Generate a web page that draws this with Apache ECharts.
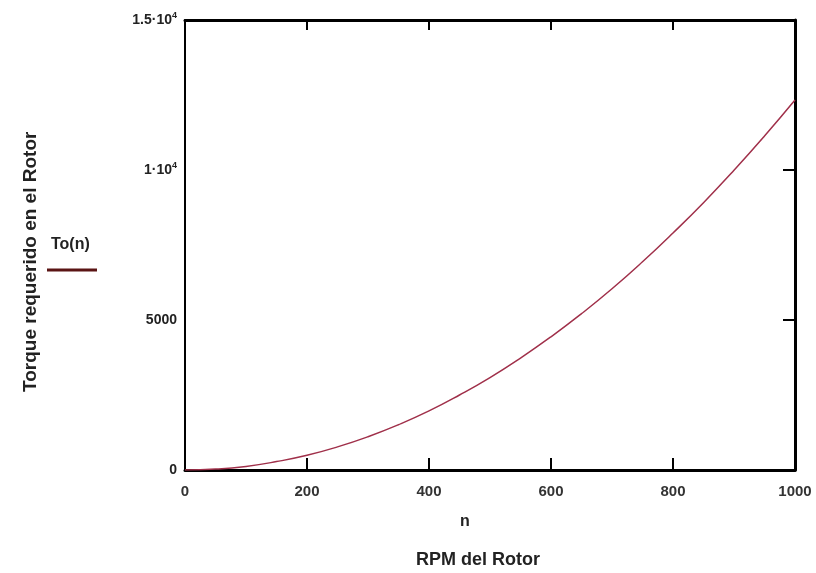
<!DOCTYPE html>
<html>
<head>
<meta charset="utf-8">
<script src="https://cdn.jsdelivr.net/npm/echarts@6/dist/echarts.min.js"></script>
<style>html,body{margin:0;padding:0;background:#fff}#c{width:816px;height:573px}</style>
</head>
<body>
<div id="c"></div>
<script>
// Data
var rpm = [0, 50, 100, 150, 200, 250, 300, 350, 400, 450, 500, 550, 600, 650, 700, 750, 800, 850, 900, 950, 1000];
var torque = [0, 30, 120, 280, 490, 770, 1110, 1510, 1970, 2500, 3080, 3730, 4440, 5210, 6040, 6940, 7900, 8910, 9990, 11130, 12330];
var yTickLabels = {0: '0', 5000: '5000', 10000: '1·10{s|4}', 15000: '1.5·10{s|4}'};
var seriesName = 'To(n)';

var pts = rpm.map(function (n, i) { return [n, torque[i]]; });
var font = '"Liberation Sans Narrow", "Liberation Sans", Arial, sans-serif';
var chart = echarts.init(document.getElementById('c'));
chart.setOption({
  animation: false,
  backgroundColor: '#fff',
  grid: {left: 185, right: 21, top: 20, bottom: 103, show: false},
  xAxis: [{
    type: 'value', min: 0, max: 1000, interval: 200, position: 'bottom',
    axisLine: {show: true, onZero: false, lineStyle: {color: '#000', width: 3}},
    axisTick: {show: true, inside: true, length: 12, lineStyle: {color: '#000', width: 2}},
    axisLabel: {fontFamily: font, fontSize: 15, fontWeight: 'bold', color: '#333', margin: 14,
      formatter: function (v) { return String(v); }},
    splitLine: {show: false}
  }, {
    type: 'value', min: 0, max: 1000, interval: 200, position: 'top',
    axisLine: {show: true, onZero: false, lineStyle: {color: '#000', width: 3}},
    axisTick: {show: true, inside: true, length: 10, lineStyle: {color: '#000', width: 2}},
    axisLabel: {show: false}, splitLine: {show: false}
  }],
  yAxis: [{
    type: 'value', min: 0, max: 15000, interval: 5000, position: 'left',
    axisLine: {show: true, onZero: false, lineStyle: {color: '#000', width: 2}},
    axisTick: {show: false},
    axisLabel: {
      fontFamily: font, fontSize: 14, fontWeight: 'bold', color: '#222', margin: 8,
      formatter: function (v) { return yTickLabels[v] !== undefined ? yTickLabels[v] : ''; },
      rich: {s: {fontFamily: font, fontSize: 9, fontWeight: 'bold', color: '#222', verticalAlign: 'top', padding: [0, 0, 8, 0]}}
    },
    splitLine: {show: false}
  }, {
    type: 'value', min: 0, max: 15000, interval: 5000, position: 'right',
    axisLine: {show: true, onZero: false, lineStyle: {color: '#000', width: 3}},
    axisTick: {show: true, inside: true, length: 12, lineStyle: {color: '#000', width: 2}},
    axisLabel: {show: false}, splitLine: {show: false}
  }],
  graphic: [
    {type: 'text', x: 31, y: 392, rotation: Math.PI / 2, silent: true,
     style: {text: 'Torque requerido en el Rotor', fontFamily: font, fontSize: 19, fontWeight: 'bold', fill: '#222',
             align: 'left', verticalAlign: 'middle'}},
    {type: 'text', x: 51, y: 237, silent: true,
     style: {text: seriesName, fontFamily: font, fontSize: 16, fontWeight: 'bold', fill: '#222'}},
    {type: 'line', silent: true, shape: {x1: 47, y1: 270, x2: 97, y2: 270},
     style: {stroke: '#5a1414', lineWidth: 3}},
    {type: 'text', x: 465, y: 522, silent: true,
     style: {text: 'n', fontFamily: font, fontSize: 16, fontWeight: 'bold', fill: '#222', align: 'center', verticalAlign: 'middle'}},
    {type: 'text', x: 478, y: 560, silent: true,
     style: {text: 'RPM del Rotor', fontFamily: font, fontSize: 18, fontWeight: 'bold', fill: '#222', align: 'center', verticalAlign: 'middle'}}
  ],
  series: [{
    name: seriesName, type: 'line', data: pts, smooth: true, showSymbol: false,
    xAxisIndex: 0, yAxisIndex: 0,
    lineStyle: {color: '#a0304a', width: 1.5}
  }]
});
</script>
</body>
</html>
